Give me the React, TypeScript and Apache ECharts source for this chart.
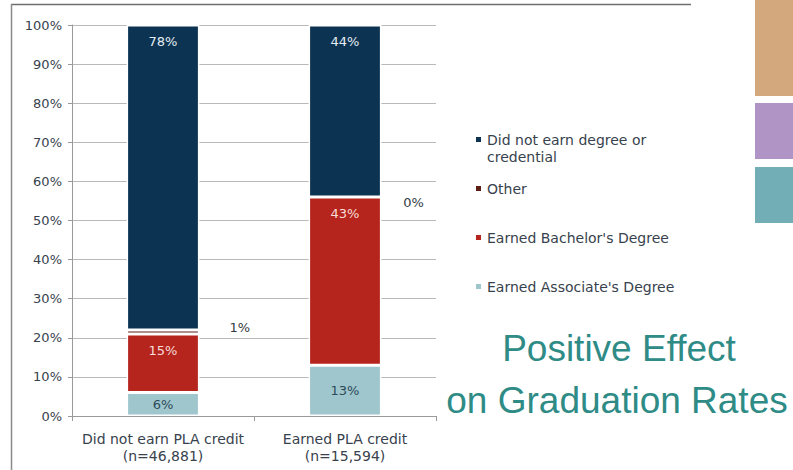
import React, { useEffect, useRef } from "react";
import * as echarts from "echarts";

const categories = ["Did not earn PLA credit\n(n=46,881)", "Earned PLA credit\n(n=15,594)"];
const associate = [6, 13];
const bachelor = [15, 43];
const other = [1, 0];
const didNot = [78, 44];
const yTicks = [0, 10, 20, 30, 40, 50, 60, 70, 80, 90, 100];
const seriesNames = [
  "Did not earn degree or\ncredential",
  "Other",
  "Earned Bachelor's Degree",
  "Earned Associate's Degree",
];
const headline = ["Positive Effect", "on Graduation Rates"];

const FONT = "DejaVu Sans";
const TXT = "#37424d";

export default function App() {
  const ref = useRef<HTMLDivElement>(null);
  useEffect(() => {
    if (!ref.current) return;
    const chart = echarts.init(ref.current, null, { renderer: "svg" });
    const barBase = {
      type: "bar",
      stack: "total",
      barWidth: "40%",
      itemStyle: { borderColor: "#ffffff", borderWidth: 1.5 },
    };
    const legendBase = {
      orient: "vertical",
      left: 474,
      padding: 0,
      icon: "rect",
      itemWidth: 7,
      itemHeight: 7,
      textStyle: { fontFamily: FONT, fontSize: 14, color: TXT, lineHeight: 17 },
    };
    chart.setOption({
      animation: false,
      backgroundColor: "#ffffff",
      grid: { left: 72, right: 357, top: 25, bottom: 54, outerBoundsMode: "none" },
      xAxis: {
        type: "category",
        data: categories,
        axisLine: { lineStyle: { color: "#9a9a9a", width: 1 } },
        axisTick: { show: true, length: 5, lineStyle: { color: "#9a9a9a" } },
        axisLabel: { interval: 0, hideOverlap: false, fontFamily: FONT, fontSize: 14, color: TXT, margin: 14, lineHeight: 17 },
      },
      yAxis: {
        type: "value",
        min: yTicks[0],
        max: yTicks[yTicks.length - 1],
        interval: 10,
        axisLine: { show: true, lineStyle: { color: "#9a9a9a" } },
        axisTick: { show: true, length: 4, lineStyle: { color: "#9a9a9a" } },
        axisLabel: { fontFamily: FONT, fontSize: 13, color: TXT, margin: 10, formatter: "{value}%" },
        splitLine: { lineStyle: { color: "#b9b9b9", width: 1 } },
      },
      legend: [
        {
          ...legendBase,
          top: 114,
          data: [seriesNames[0]],
          formatter: (name: string) => "\n" + name,
        },
        { ...legendBase, top: 180, data: [seriesNames[1]] },
        { ...legendBase, top: 229, data: [seriesNames[2]] },
        { ...legendBase, top: 278, data: [seriesNames[3]] },
      ],
      series: [
        {
          ...barBase,
          name: seriesNames[3],
          data: associate,
          itemStyle: { ...barBase.itemStyle, color: "#9fc6cc" },
          label: { show: true, position: "inside", formatter: "{c}%", fontFamily: FONT, fontSize: 13, color: "#2d4b5b" },
        },
        {
          ...barBase,
          name: seriesNames[2],
          data: bachelor,
          itemStyle: { ...barBase.itemStyle, color: "#b5251d" },
          label: { show: true, position: "insideTop", distance: 10, formatter: "{c}%", fontFamily: FONT, fontSize: 13, color: "#f7dcd8" },
        },
        {
          ...barBase,
          name: seriesNames[1],
          data: [
            { value: other[0], label: { distance: 30, offset: [0, -4] } },
            { value: other[1], label: { distance: 21, offset: [0, 5] } },
          ],
          itemStyle: { ...barBase.itemStyle, color: "#5b1d14" },
          label: { show: true, position: "right", formatter: "{c}%", fontFamily: FONT, fontSize: 13, color: "#333c44" },
        },
        {
          ...barBase,
          name: seriesNames[0],
          data: didNot,
          itemStyle: { ...barBase.itemStyle, color: "#0c3352" },
          label: { show: true, position: "insideTop", distance: 10, formatter: "{c}%", fontFamily: FONT, fontSize: 13, color: "#e6edf2" },
        },
      ],
      graphic: [
        { type: "line", shape: { x1: 11, y1: 4.5, x2: 691, y2: 4.5 }, style: { stroke: "#6e6e6e", lineWidth: 1.5 } },
        { type: "line", shape: { x1: 11.5, y1: 4, x2: 11.5, y2: 470 }, style: { stroke: "#8a8a8a", lineWidth: 1.5 } },
        { type: "rect", shape: { x: 755, y: 0, width: 38, height: 96 }, style: { fill: "#d3a87c" } },
        { type: "rect", shape: { x: 755, y: 103, width: 38, height: 56 }, style: { fill: "#b194c6" } },
        { type: "rect", shape: { x: 755, y: 167, width: 38, height: 56 }, style: { fill: "#72aeb5" } },
        {
          type: "text",
          x: 619,
          y: 348,
          style: { text: headline[0], fontFamily: "Liberation Sans", fontSize: 37, fill: "#2e8b86", align: "center", verticalAlign: "middle" },
        },
        {
          type: "text",
          x: 617,
          y: 400,
          style: { text: headline[1], fontFamily: "Liberation Sans", fontSize: 37, fill: "#2e8b86", align: "center", verticalAlign: "middle" },
        },
      ],
    });
    return () => chart.dispose();
  }, []);
  return <div ref={ref} style={{ position: "fixed", left: 0, top: 0, width: 793, height: 470 }} />;
}
